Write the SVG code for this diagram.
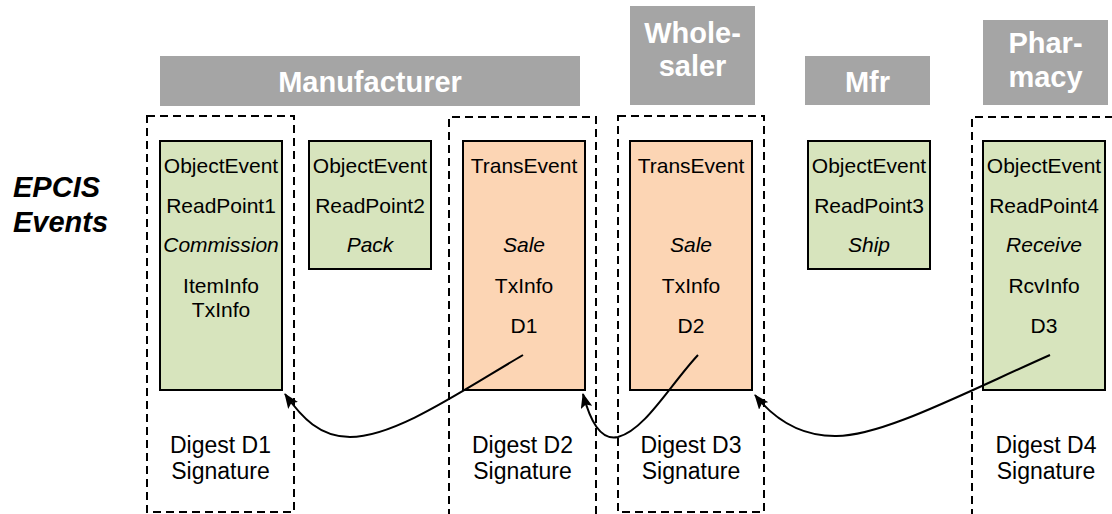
<svg xmlns="http://www.w3.org/2000/svg" width="1112" height="514" viewBox="0 0 1112 514">
  <defs>
    <style>
      .hdr { fill: #a5a5a5; }
      .hdr-t { font-family: "Liberation Sans", Arial, sans-serif; font-weight: bold; font-size: 29px; fill: #ffffff; text-anchor: middle; }
      .obj { fill: #d7e4bd; stroke: #000; stroke-width: 2; }
      .tx { fill: #fcd5b4; stroke: #000; stroke-width: 2; }
      .t { font-family: "Liberation Sans", Arial, sans-serif; font-size: 21px; fill: #000; text-anchor: middle; }
      .it { font-style: italic; }
      .dg { font-family: "Liberation Sans", Arial, sans-serif; font-size: 23px; fill: #000; text-anchor: middle; }
      .grp { fill: none; stroke: #000; stroke-width: 2; stroke-dasharray: 8 5; }
      .link { fill: none; stroke: #000; stroke-width: 2; marker-end: url(#arrow); }
      .side { font-family: "Liberation Sans", Arial, sans-serif; font-weight: bold; font-style: italic; font-size: 29px; fill: #000; }
    </style>
    <marker id="arrow" viewBox="0 0 15 12" refX="14" refY="6" markerWidth="15" markerHeight="12" markerUnits="userSpaceOnUse" orient="auto">
      <path d="M0,0 L15,6 L0,12 L3,6 Z" fill="#000"/>
    </marker>
  </defs>

  <!-- row label -->
  <g id="label-epcis">
    <text class="side" x="13" y="197">EPCIS</text>
    <text class="side" x="13" y="232">Events</text>
  </g>

  <!-- party headers -->
  <g id="hdr-manufacturer">
    <rect class="hdr" x="160" y="56" width="420" height="50"/>
    <text class="hdr-t" x="370" y="92">Manufacturer</text>
  </g>
  <g id="hdr-wholesaler">
    <rect class="hdr" x="630" y="6" width="125" height="99"/>
    <text class="hdr-t" x="692.5" y="43">Whole-</text>
    <text class="hdr-t" x="692.5" y="76">saler</text>
  </g>
  <g id="hdr-mfr">
    <rect class="hdr" x="805" y="56" width="125" height="49"/>
    <text class="hdr-t" x="867.5" y="92">Mfr</text>
  </g>
  <g id="hdr-pharmacy">
    <rect class="hdr" x="983" y="20" width="125" height="85"/>
    <text class="hdr-t" x="1045.5" y="53">Phar-</text>
    <text class="hdr-t" x="1045.5" y="87">macy</text>
  </g>

  <!-- signed groups (dashed) -->
  <g id="group-d1">
    <rect class="grp" x="147" y="116" width="147" height="396"/>
    <text class="dg" x="220.5" y="453">Digest D1</text>
    <text class="dg" x="220.5" y="479">Signature</text>
  </g>
  <g id="group-d2">
    <path class="grp" d="M449,530 V117 H596 V530"/>
    <text class="dg" x="522.5" y="453">Digest D2</text>
    <text class="dg" x="522.5" y="479">Signature</text>
  </g>
  <g id="group-d3">
    <rect class="grp" x="618" y="116" width="146" height="396"/>
    <text class="dg" x="691" y="453">Digest D3</text>
    <text class="dg" x="691" y="479">Signature</text>
  </g>
  <g id="group-d4">
    <path class="grp" d="M972,530 V117 H1130"/>
    <text class="dg" x="1046" y="453">Digest D4</text>
    <text class="dg" x="1046" y="479">Signature</text>
  </g>

  <!-- events -->
  <g id="ev-commission">
    <rect class="obj" x="160" y="141" width="122" height="249"/>
    <text class="t" x="221" y="173">ObjectEvent</text>
    <text class="t" x="221" y="213">ReadPoint1</text>
    <text class="t it" x="221" y="252">Commission</text>
    <text class="t" x="221" y="293">ItemInfo</text>
    <text class="t" x="221" y="317">TxInfo</text>
  </g>
  <g id="ev-pack">
    <rect class="obj" x="309" y="141" width="122" height="128"/>
    <text class="t" x="370" y="173">ObjectEvent</text>
    <text class="t" x="370" y="213">ReadPoint2</text>
    <text class="t it" x="370" y="252">Pack</text>
  </g>
  <g id="ev-sale-1">
    <rect class="tx" x="463" y="141" width="122" height="249"/>
    <text class="t" x="524" y="173">TransEvent</text>
    <text class="t it" x="524" y="252">Sale</text>
    <text class="t" x="524" y="293">TxInfo</text>
    <text class="t" x="524" y="333">D1</text>
  </g>
  <g id="ev-sale-2">
    <rect class="tx" x="630" y="141" width="122" height="249"/>
    <text class="t" x="691" y="173">TransEvent</text>
    <text class="t it" x="691" y="252">Sale</text>
    <text class="t" x="691" y="293">TxInfo</text>
    <text class="t" x="691" y="333">D2</text>
  </g>
  <g id="ev-ship">
    <rect class="obj" x="808" y="141" width="122" height="128"/>
    <text class="t" x="869" y="173">ObjectEvent</text>
    <text class="t" x="869" y="213">ReadPoint3</text>
    <text class="t it" x="869" y="252">Ship</text>
  </g>
  <g id="ev-receive">
    <rect class="obj" x="983" y="141" width="122" height="249"/>
    <text class="t" x="1044" y="173">ObjectEvent</text>
    <text class="t" x="1044" y="213">ReadPoint4</text>
    <text class="t it" x="1044" y="252">Receive</text>
    <text class="t" x="1044" y="293">RcvInfo</text>
    <text class="t" x="1044" y="333">D3</text>
  </g>

  <!-- digest references -->
  <g id="connectors">
    <path class="link" d="M523,355 C460,392 395,437 350,437 C320,437 302,418 285,394"/>
    <path class="link" d="M698,355 C670,385 645,430 618,437 C600,441 590,420 583,394"/>
    <path class="link" d="M1050,355 C960,395 880,437 835,436 C800,436 775,420 755,395"/>
  </g>
</svg>
